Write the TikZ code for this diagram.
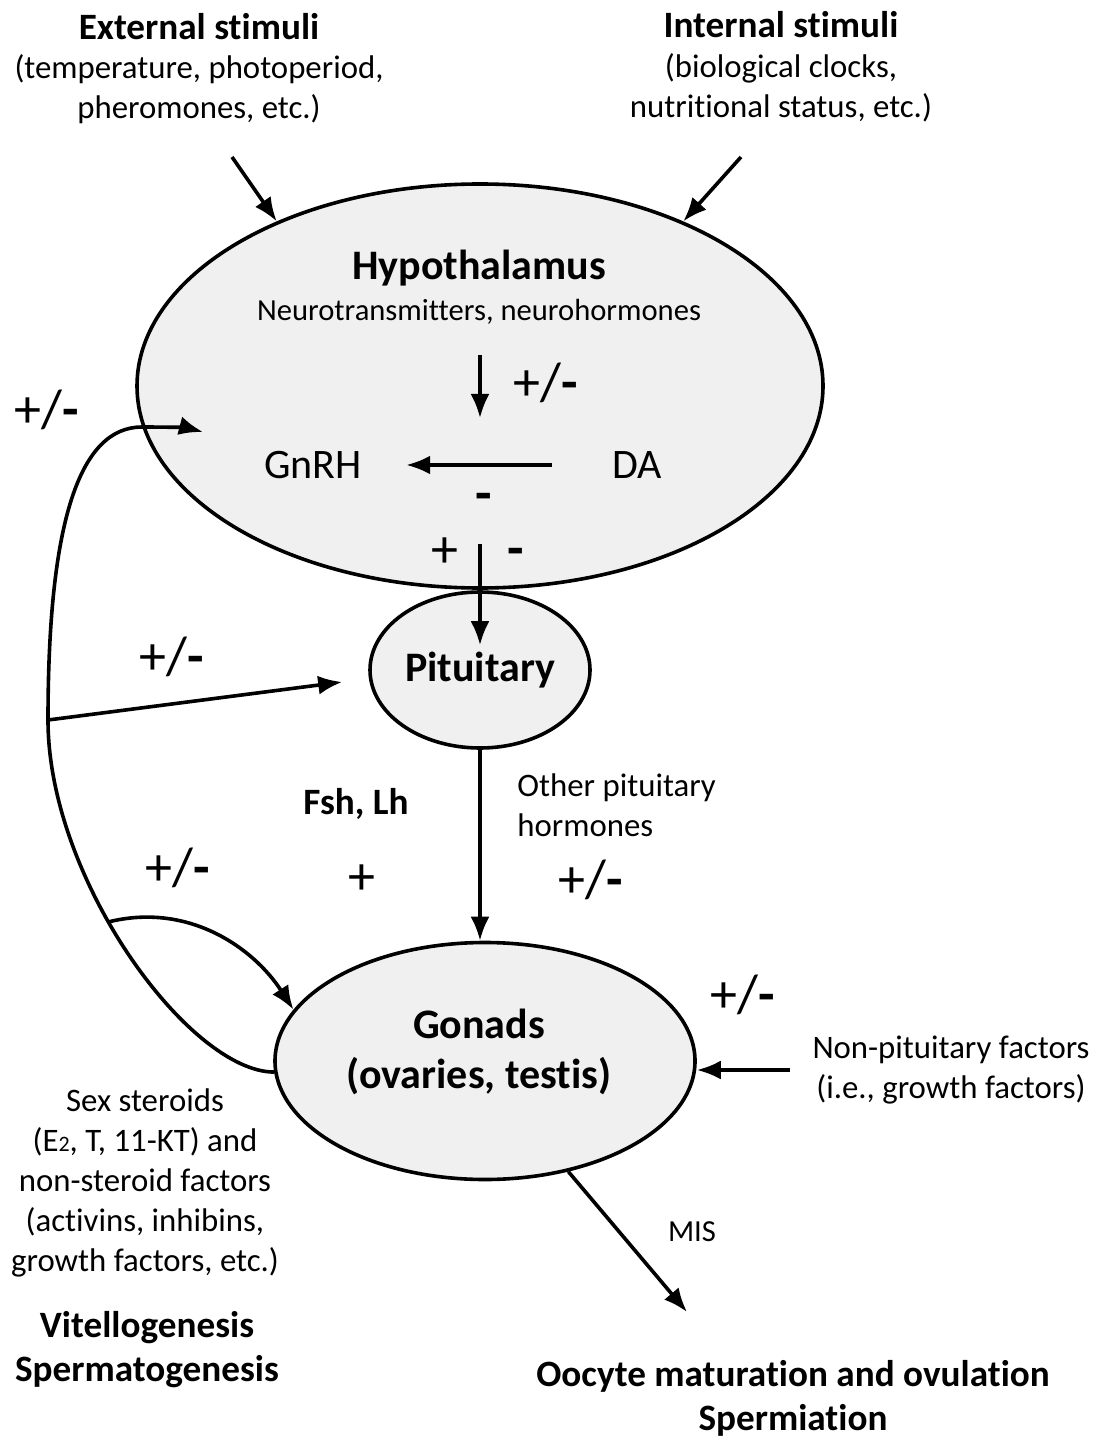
\documentclass[tikz,border=0pt]{standalone}
\usepackage{fontspec}
\setmainfont[RawFeature={-liga;-clig;-calt;-dlig}]{Carlito}
\usetikzlibrary{shapes.geometric,arrows.meta}

\begin{document}
\begin{tikzpicture}[->,>={Latex[length=12pt,width=9.5pt]},x=0.5pt,y=0.5pt,line width=1.8pt]
      \tikzstyle{organ}=[shape=ellipse,draw=black,fill=gray!12,inner sep=0pt];
      \tikzstyle{head}=[font=\fontsize{18.6}{22}\selectfont\bfseries,align=center];
      \tikzstyle{big}=[font=\fontsize{21}{25}\selectfont\bfseries,align=center];
      \tikzstyle{txt}=[font=\fontsize{16.4}{20}\selectfont,align=center];
      \tikzstyle{small}=[font=\fontsize{15.3}{20}\selectfont,align=center];
      \tikzstyle{sign}=[font=\fontsize{27}{30}\selectfont,inner sep=0pt];

      \useasboundingbox (0,0) rectangle (1098,-1438);

      % organs
      \node[organ,minimum width=343pt,minimum height=202pt](hyp) at (480,-386) {};
      \node[organ,big,minimum width=110pt,minimum height=78pt](pit) at (480,-670) {Pituitary};
      \node[organ,minimum width=210pt,minimum height=118.5pt](gon) at (485,-1061) {};
      \node[big](gonlabel) at (479,-1052) {Gonads\\(ovaries, testis)};

      % stimuli
      \node[head](ext) at (199,-27) {External stimuli};
      \node[txt](extsub) at (199,-89) {(temperature, photoperiod,\\pheromones, etc.)};
      \node[head](int) at (781,-25) {Internal stimuli};
      \node[txt](intsub) at (781,-88) {(biological clocks,\\nutritional status, etc.)};
      \coordinate (extfrom) at (232,-157);
      \coordinate (intfrom) at (741,-157);

      % inside hypothalamus
      \node[big](hyplabel) at (479,-268) {Hypothalamus};
      \node[small](neuro) at (479,-312) {Neurotransmitters, neurohormones};
      \node[font=\fontsize{21}{25}\selectfont](gnrh) at (313,-465) {GnRH};
      \node[font=\fontsize{21}{25}\selectfont](da) at (637,-465) {DA};
      \coordinate (ntfrom) at (480,-355);
      \coordinate (ntto) at (480,-418);

      % other texts
      \node[head](fsh) at (356,-804) {Fsh, Lh};
      \node[txt,align=left,anchor=west](other) at (509,-805) {Other pituitary\\hormones};
      \node[txt](nonpit) at (951,-1070) {Non-pituitary factors\\(i.e., growth factors)};
      \node[txt](steroids) at (145,-1183) {Sex steroids\\(E{\fontsize{11}{11}\selectfont 2}, T, 11-KT) and\\non-steroid factors\\(activins, inhibins,\\growth factors, etc.)};
      \node[head](vit) at (147,-1350) {Vitellogenesis\\Spermatogenesis};
      \node[head](oocyte) at (793,-1398) {Oocyte maturation and ovulation\\Spermiation};
      \node[small](mis) at (692,-1232) {MIS};
      \coordinate (misto) at (687,-1312);
      \coordinate (fbend) at (203,-432);

      % signs
      \node[sign](s1) at (47,-410) {+/\textbf{-}};
      \node[sign](s2) at (546,-383) {+/\textbf{-}};
      \node[sign](s3) at (484,-502) {\textbf{-}};
      \node[sign](s4) at (445,-553) {+};
      \node[sign](s5) at (516,-557) {\textbf{-}};
      \node[sign](s6) at (172,-657) {+/\textbf{-}};
      \node[sign](s7) at (178,-868) {+/\textbf{-}};
      \node[sign](s8) at (362,-880) {+};
      \node[sign](s9) at (591,-880) {+/\textbf{-}};
      \node[sign](s10) at (743,-995) {+/\textbf{-}};

      \draw (extfrom) -- (hyp.141);
      \draw (intfrom) -- (hyp.39);
      \draw (ntfrom) -- (ntto);
      \draw[shorten <=26pt,shorten >=18pt] (da) -- (gnrh);
      \draw ([yshift=23pt]hyp.south) -- ([yshift=-27.5pt]pit.north);
      \draw (pit.south) -- (pit.south |- gon.north);
      \draw[shorten <=7pt] (nonpit.west) -- (nonpit.west -| gon.east);
      \draw (gon.-53) -- (misto);

      % feedback loop
      \draw (gon.183) .. controls (190,-1072) and (48,-880) .. (48,-720) coordinate (fbpit) coordinate[pos=0.58] (fbgon)
         .. controls (48,-520) and (80,-427) .. (142,-427) .. controls (172,-427) and (188,-428) .. (fbend);
      \draw (fbpit) -- ([shift={(-13pt,-6pt)}]pit.west);
      \draw (fbgon) .. controls +(80,20) and +(-40,62) .. (gon.165);

    \end{tikzpicture}
\end{document}
